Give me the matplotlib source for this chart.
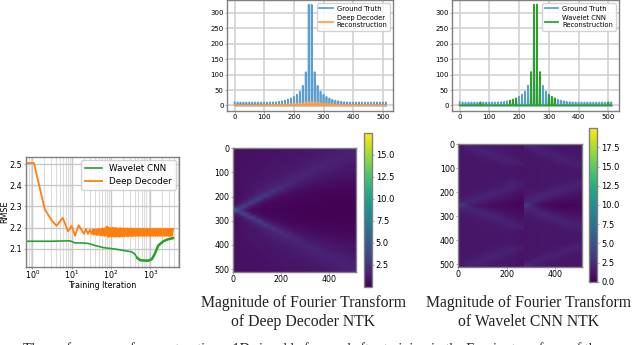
import numpy as np
import matplotlib
matplotlib.use('Agg')
import matplotlib.pyplot as plt
from matplotlib.cm import ScalarMappable
from matplotlib.colors import Normalize

W, H = 640, 345

# RMSE curves (left panel)
wavelet_iter = [0.68, 1, 3, 9.1, 12.2, 17.9, 26, 39, 64, 139, 333, 400, 470, 560, 890, 1090, 1300, 1600, 2150, 2900, 3800]
wavelet_rmse = [2.135, 2.135, 2.135, 2.137, 2.127, 2.127, 2.125, 2.115, 2.105, 2.097, 2.085, 2.075, 2.055, 2.045, 2.043, 2.05, 2.075, 2.115, 2.135, 2.145, 2.15]

decoder_head_iter = [0.68, 1.1, 2.06, 3.1, 4.15, 5.9, 8.1, 10, 12.2, 15, 20.5, 23, 26, 29]
decoder_head_rmse = [2.505, 2.505, 2.287, 2.234, 2.208, 2.246, 2.182, 2.208, 2.161, 2.211, 2.17, 2.193, 2.17, 2.19]

decoder_tail_iter = [32, 34, 36, 38, 40, 42, 44, 47, 49, 52, 55, 58, 61, 64, 68, 72, 76, 80, 84, 89,
                     94, 99, 104, 110, 116, 123, 129, 136, 144, 152, 160, 169, 178, 188, 198, 209, 221, 233, 246, 259,
                     273, 288, 304, 321, 339, 357, 377, 398, 420, 443, 467, 493, 520, 549, 579, 611, 644, 680, 717, 757,
                     798, 842, 889, 937, 989, 1043, 1101, 1161, 1225, 1293, 1364, 1439, 1518, 1602, 1690, 1783, 1881, 1984, 2094, 2209,
                     2330, 2459, 2594, 2737, 2887, 3046, 3214, 3390, 3577, 3800]
decoder_tail_rmse = [2.17, 2.19, 2.166, 2.192, 2.168, 2.19, 2.164, 2.194, 2.166, 2.192, 2.162, 2.196, 2.164, 2.194, 2.16, 2.198, 2.162, 2.205, 2.155, 2.2,
                     2.158, 2.198, 2.156, 2.2, 2.158, 2.198, 2.156, 2.198, 2.158, 2.196, 2.156, 2.198, 2.158, 2.196, 2.158, 2.196, 2.158, 2.195, 2.16, 2.196,
                     2.158, 2.195, 2.16, 2.195, 2.158, 2.195, 2.16, 2.194, 2.16, 2.195, 2.16, 2.194, 2.16, 2.195, 2.16, 2.194, 2.16, 2.195, 2.16, 2.194,
                     2.16, 2.194, 2.16, 2.195, 2.16, 2.194, 2.16, 2.194, 2.16, 2.195, 2.16, 2.194, 2.16, 2.194, 2.16, 2.195, 2.16, 2.194, 2.16, 2.194,
                     2.16, 2.195, 2.16, 2.194, 2.16, 2.194, 2.16, 2.195, 2.16, 2.194]

# spectrum stems, one value every 10 bins from 0 to 510
ground_truth = [10.5, 10, 10, 10, 10, 10, 10, 10, 10, 10, 10, 10, 10,
                10.5, 11, 12, 14, 16, 19, 23, 28, 35, 45, 64, 108, 327,
                327, 108, 64, 45, 35, 28, 23, 19, 16, 14, 12, 11, 10.5,
                10, 10, 10, 10, 10, 10, 10, 10, 10, 10, 10, 10, 10.5]
decoder_recon = [1, 1, 1, 1, 1, 1, 1, 1, 1, 1, 1, 1.5, 1.5,
                 2, 2, 2.5, 3, 3.5, 4, 5, 5.5, 6, 7, 8, 10, 11,
                 12, 11, 10, 8, 7, 6, 5.5, 5, 4, 3.5, 3, 2.5, 2,
                 2, 1.5, 1.5, 1, 1, 1, 1, 1, 1, 1, 1, 1, 1]
wavelet_recon = [0.5, 0.5, 0.5, 0.5, 0.5, 0.5, 0.5, 10, 0.5, 0.5, 0.5, 0.5, 0.5,
                 0.5, 0.5, 0.5, 0.5, 16, 19, 23, 0.5, 0.5, 0.5, 0.5, 108, 327,
                 327, 108, 0.5, 0.5, 35, 28, 23, 0.5, 0.5, 0.5, 0.5, 0.5, 0.5,
                 0.5, 0.5, 0.5, 0.5, 0.5, 0.5, 0.5, 0.5, 0.5, 0.5, 0.5, 10, 0.5]

# Deep Decoder NTK magnitude, upper half (rows 0-256), mirrored below
decoder_ntk = [
    [.8, .8, .8, .85, .85, .9, .9, .95, 1.0, 1.05, 1.1, 1.15, 1.2, 1.3, 1.4, 1.5, 1.7],
    [.8, .8, .8, .85, .85, .9, .9, .95, 1.0, 1.05, 1.1, 1.2, 1.3, 1.4, 1.5, 1.7, 1.6],
    [.8, .8, .8, .85, .85, .9, .95, 1.0, 1.05, 1.1, 1.2, 1.3, 1.4, 1.5, 1.7, 1.6, 1.5],
    [.8, .8, .85, .85, .9, .95, 1.0, 1.05, 1.1, 1.2, 1.3, 1.4, 1.55, 1.7, 1.6, 1.5, 1.35],
    [.8, .85, .85, .9, .9, 1.0, 1.05, 1.1, 1.2, 1.3, 1.45, 1.6, 1.75, 1.55, 1.45, 1.3, 1.2],
    [.8, .85, .85, .9, .95, 1.0, 1.1, 1.2, 1.3, 1.4, 1.6, 1.8, 1.6, 1.4, 1.3, 1.15, 1.05],
    [.8, .85, .9, .9, 1.0, 1.1, 1.15, 1.3, 1.4, 1.6, 1.85, 1.6, 1.35, 1.2, 1.1, 1.0, .95],
    [.8, .85, .9, 1.0, 1.05, 1.15, 1.3, 1.45, 1.65, 1.9, 1.6, 1.3, 1.15, 1.0, .95, .85, .8],
    [.8, .85, .95, 1.05, 1.15, 1.3, 1.45, 1.7, 2.0, 1.6, 1.25, 1.05, .95, .85, .75, .7, .65],
    [.8, .9, .95, 1.1, 1.25, 1.45, 1.7, 2.2, 1.6, 1.2, .95, .8, .7, .65, .6, .55, .55],
    [.75, .9, 1.0, 1.2, 1.4, 1.7, 2.6, 1.6, 1.1, .8, .65, .55, .5, .45, .45, .4, .4],
    [.75, .9, 1.05, 1.3, 1.6, 3.0, 1.5, 1.0, .7, .55, .45, .4, .35, .35, .3, .3, .3],
    [.7, .9, 1.2, 1.5, 3.6, 1.4, .9, .6, .45, .4, .35, .3, .3, .25, .25, .25, .25],
    [.7, 1.0, 1.3, 4.0, 1.2, .7, .5, .4, .35, .3, .25, .25, .2, .2, .2, .2, .2],
    [.7, 1.1, 4.2, 1.0, .6, .4, .35, .3, .25, .2, .2, .2, .15, .15, .15, .15, .15],
    [1.0, 4.5, .9, .5, .35, .3, .25, .2, .2, .15, .15, .15, .1, .1, .1, .1, .1],
    [6.0, .7, .4, .3, .25, .2, .2, .15, .15, .1, .1, .1, .1, .1, .1, .1, .1],
]

# Wavelet CNN NTK, two blocks either side of the seam near column 270
wavelet_ntk_left = [
    [1.2, 2.0, 1.8, 1.5, 1.4, 1.3, 1.3, 1.2, 1.0],
    [1.2, 1.6, 2.0, 1.8, 1.5, 1.4, 1.3, 1.2, 1.0],
    [1.2, 1.3, 1.5, 1.9, 1.9, 1.6, 1.4, 1.3, 1.0],
    [1.2, 1.2, 1.3, 1.4, 1.7, 2.0, 1.6, 1.4, 1.1],
    [1.2, 1.2, 1.2, 1.3, 1.4, 1.5, 2.0, 1.9, 1.3],
    [1.2, 1.2, 1.2, 1.2, 1.3, 1.3, 1.4, 1.6, 1.5],
    [1.2, 1.2, 1.2, 1.2, 1.2, 1.2, 1.2, 1.2, 1.0],
    [1.2, 1.2, 1.2, 1.2, 1.2, 1.2, 1.2, 1.2, 1.0],
    [1.2, 1.2, 1.2, 1.2, 1.2, 1.2, 1.2, 1.2, 1.0],
    [1.2, 1.2, 1.2, 1.2, 1.2, 1.3, 1.3, 1.4, 1.2],
    [1.2, 1.2, 1.2, 1.2, 1.3, 1.3, 1.4, 1.7, 1.6],
    [1.2, 1.2, 1.2, 1.3, 1.3, 1.4, 1.7, 2.0, 1.4],
    [1.2, 1.2, 1.3, 1.3, 1.5, 1.8, 2.0, 1.5, 1.0],
    [1.3, 1.3, 1.4, 1.7, 2.0, 1.9, 1.3, 1.1, .8],
    [1.4, 1.6, 1.9, 2.1, 1.7, 1.3, 1.0, .8, .6],
    [1.6, 2.1, 2.0, 1.5, 1.1, .9, .7, .6, .4],
    [3.8, 1.8, 1.0, .8, .6, .5, .4, .3, .3],
]
wavelet_ntk_right = [
    [2.3, 1.7, 1.4, 1.3, 1.2, 1.2, 1.2, 1.2],
    [1.3, 2.0, 1.7, 1.4, 1.3, 1.2, 1.2, 1.2],
    [1.1, 1.3, 1.9, 1.8, 1.5, 1.3, 1.2, 1.2],
    [1.1, 1.2, 1.4, 1.6, 1.9, 1.6, 1.4, 1.3],
    [1.1, 1.2, 1.2, 1.3, 1.5, 1.9, 1.7, 1.4],
    [1.1, 1.1, 1.2, 1.2, 1.3, 1.4, 1.7, 1.9],
    [1.1, 1.1, 1.2, 1.2, 1.2, 1.2, 1.3, 1.4],
    [1.1, 1.1, 1.2, 1.2, 1.2, 1.2, 1.2, 1.2],
    [1.1, 1.1, 1.2, 1.2, 1.2, 1.2, 1.2, 1.2],
    [1.1, 1.1, 1.2, 1.2, 1.2, 1.2, 1.3, 1.4],
    [1.1, 1.1, 1.2, 1.2, 1.3, 1.4, 1.6, 1.8],
    [1.1, 1.2, 1.2, 1.3, 1.5, 1.8, 2.0, 1.7],
    [1.2, 1.2, 1.4, 1.6, 2.0, 1.9, 1.5, 1.3],
    [1.3, 1.5, 1.9, 2.2, 1.8, 1.4, 1.1, 1.0],
    [1.5, 2.1, 2.2, 1.6, 1.1, .9, .8, .8],
    [1.9, 2.0, 1.2, .8, .6, .5, .5, .5],
    [3.6, 1.0, .5, .3, .3, .3, .3, .3],
]

SPINE = '#808080'
GRID = '#d2d2d2'


def px_axes(fig, left, top, right, bottom):
    return fig.add_axes([left / W, 1 - bottom / H, (right - left) / W, (bottom - top) / H])


def style_axes(ax, fontsize):
    for s in ax.spines.values():
        s.set_color(SPINE)
        s.set_linewidth(1.0)
    ax.tick_params(labelsize=fontsize, length=1.5, width=0.5, pad=1, color=SPINE)


def mirror(rows):
    m = np.array(rows)
    return np.vstack([m, m[-2::-1]])


def plot_spectrum(fig, box, recon, color, label):
    bins = np.arange(512)
    stems = np.arange(0, 520, 10)
    gt = np.zeros(512)
    gt[stems] = ground_truth
    rc = np.zeros(512)
    rc[stems] = recon

    ax = px_axes(fig, *box)
    ax.plot(bins, gt, color='#5a9fd0', lw=1.25, label='Ground Truth')
    ax.plot(bins, rc, color=color, lw=1.25, label=label)
    ax.set_xlim(-25.5, 536)
    ax.set_ylim(-18, 342)
    ax.set_xticks([0, 100, 200, 300, 400, 500])
    ax.set_yticks([0, 50, 100, 150, 200, 250, 300])
    ax.grid(True, color=GRID, lw=1.2)
    ax.set_axisbelow(True)
    style_axes(ax, 5)
    ax.legend(loc='upper right', fontsize=4.9, borderaxespad=0.5, labelspacing=0.5, handlelength=2.0,
              handletextpad=0.6, framealpha=0.85, borderpad=0.35)
    return ax


def add_colorbar(fig, box, norm, ticks):
    cax = px_axes(fig, *box)
    cb = fig.colorbar(ScalarMappable(norm=norm, cmap='viridis'), cax=cax)
    cb.set_ticks(ticks)
    cb.ax.tick_params(labelsize=6, length=1.5, width=0.5, pad=1.5, color=SPINE)
    cb.outline.set_edgecolor(SPINE)
    cb.outline.set_linewidth(1.0)


def caption(fig, x, y, text):
    fig.text(x / W, 1 - y / H, text, ha='center', va='center', family='Liberation Serif', fontsize=11.35, color='#222222')


fig = plt.figure(figsize=(W / 100, H / 100), dpi=100)

# left RMSE panel
ax = px_axes(fig, 25.7, 157, 179, 266.7)
ax.plot(wavelet_iter, wavelet_rmse, color='#2ca02c', lw=1.2, label='Wavelet CNN')
ax.plot(decoder_head_iter + decoder_tail_iter, decoder_head_rmse + decoder_tail_rmse, color='#ff7f0e', lw=1.3, label='Deep Decoder')
ax.plot(wavelet_iter[12:], wavelet_rmse[12:], color='#2ca02c', lw=1.8)
ax.set_xscale('log')
ax.set_xlim(0.677, 5370)
ax.set_ylim(2.0145, 2.534)
ax.set_yticks([2.1, 2.2, 2.3, 2.4, 2.5])
ax.grid(True, which='major', color='#c8c8c8', lw=1.0)
ax.grid(True, which='minor', axis='x', color='#dcdcdc', lw=0.8)
ax.set_axisbelow(True)
style_axes(ax, 5.8)
ax.tick_params(axis='x', pad=0)
ax.tick_params(which='minor', length=1, width=0.4, color=SPINE)
ax.set_xlabel('Training Iteration', fontsize=5.8, labelpad=0.2)
ax.set_ylabel('RMSE', fontsize=5.8)
ax.yaxis.set_label_coords(-16.5 / 153.3, 0.5)
ax.legend(loc='upper right', fontsize=6.3, borderaxespad=0.4, handlelength=2.0, framealpha=0.85)

# top spectra
plot_spectrum(fig, (227, 0, 393.5, 111), decoder_recon, '#ff9c45', 'Deep Decoder\nReconstruction')
plot_spectrum(fig, (452, 0, 619, 111), wavelet_recon, '#2ca02c', 'Wavelet CNN\nReconstruction')

# Deep Decoder heatmap
norm1 = Normalize(0.03, 17.46)
ax = px_axes(fig, 232.7, 148.3, 356, 271.7)
ax.imshow(mirror(decoder_ntk), extent=[0, 511, 511, 0], cmap='viridis', norm=norm1, interpolation='gaussian', aspect='auto')
ax.set_xticks([0, 200, 400])
ax.set_yticks([0, 100, 200, 300, 400, 500])
style_axes(ax, 5.7)
add_colorbar(fig, (363.7, 133.3, 371.7, 286.7), norm1, [2.5, 5, 7.5, 10, 12.5, 15])

# Wavelet CNN heatmap
norm2 = Normalize(0, 20)
ax = px_axes(fig, 458.3, 144, 581.7, 267)
ax.imshow(mirror(wavelet_ntk_left), extent=[0, 270, 511, 0], cmap='viridis', norm=norm2, interpolation='gaussian', aspect='auto')
ax.imshow(mirror(wavelet_ntk_right), extent=[270, 511, 511, 0], cmap='viridis', norm=norm2, interpolation='gaussian', aspect='auto')
ax.set_xlim(0, 511)
ax.set_ylim(511, 0)
ax.set_xticks([0, 200, 400])
ax.set_yticks([0, 100, 200, 300, 400, 500])
style_axes(ax, 5.7)
add_colorbar(fig, (589, 128.3, 597, 281.7), norm2, [0, 2.5, 5, 7.5, 10, 12.5, 15, 17.5])

caption(fig, 303.5, 302.7, 'Magnitude of Fourier Transform')
caption(fig, 303.5, 321.7, 'of Deep Decoder NTK')
caption(fig, 528.7, 302.7, 'Magnitude of Fourier Transform')
caption(fig, 528.7, 321.7, 'of Wavelet CNN NTK')

# body text of the page, cut off by the crop; wording is a best guess from the letter tops
fig.text(23 / W, 1 - 353 / H, 'The performance of reconstructing a 1D signal before and after training in the Fourier transform of the',
         ha='left', va='baseline', family='Liberation Serif', fontsize=10.2, color='#222222')

fig.savefig('out.png', dpi=100)
